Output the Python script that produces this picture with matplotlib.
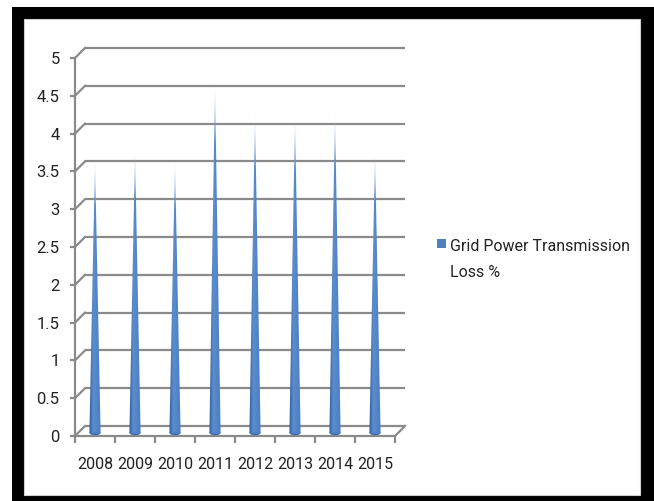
import numpy as np
import matplotlib
matplotlib.use("Agg")
import matplotlib.pyplot as plt
from matplotlib.patches import Rectangle, Polygon, Ellipse
from matplotlib.transforms import ScaledTranslation
from matplotlib.colors import to_rgb

# ---- data ----
years = ["2008", "2009", "2010", "2011", "2012", "2013", "2014", "2015"]
loss_pct = [3.65, 3.78, 3.63, 4.66, 4.26, 4.23, 4.28, 3.75]
y_ticks = [0, 0.5, 1, 1.5, 2, 2.5, 3, 3.5, 4, 4.5, 5]
y_tick_labels = ["0", "0.5", "1", "1.5", "2", "2.5", "3", "3.5", "4", "4.5", "5"]
series_lines = ["Grid Power Transmission", "Loss %"]

plt.rcParams['font.family'] = ['Roboto', 'DejaVu Sans']

W, H = 654, 501
fig = plt.figure(figsize=(W / 100, H / 100), dpi=100)
fig.patch.set_facecolor("white")

# frame
fig.patches.append(Rectangle((12 / W, 0), (W - 12) / W, (H - 7) / H,
                             transform=fig.transFigure, facecolor="black",
                             edgecolor="none", zorder=-10))
fig.patches.append(Rectangle((24 / W, (H - 495) / H), (640 - 24) / W, (495 - 19) / H,
                             transform=fig.transFigure, facecolor="white",
                             edgecolor="#d0d0d0", linewidth=0.8, zorder=-9))

ax = fig.add_axes([75 / W, (H - 436) / H, 320 / W, 378 / H])
ax.set_xlim(-0.5, len(years) - 0.5)
ax.set_ylim(0, 5)
ax.patch.set_visible(False)

grid_c = "#8a8a8a"
text_c = "#222222"
fs = 11.5

for s in ["top", "right"]:
    ax.spines[s].set_visible(False)
for s in ["left", "bottom"]:
    ax.spines[s].set_color(grid_c)
    ax.spines[s].set_linewidth(1.6)

ax.set_yticks(y_ticks)
ax.set_yticklabels(y_tick_labels)
ax.tick_params(axis="y", length=3.6, width=1.6, color=grid_c, pad=7.5,
               labelsize=fs + 0.5, labelcolor=text_c)
ax.set_xticks(range(len(years)))
ax.set_xticklabels(years)
ax.set_xticks(np.arange(-0.5, len(years), 1.0), minor=True)
ax.tick_params(axis="x", which="major", length=0, pad=15, labelsize=fs, labelcolor=text_c)
ax.tick_params(axis="x", which="minor", length=5.2, width=1.6, color=grid_c)

# 3D depth offset (back wall)
back = ax.transData + ScaledTranslation(0.10, 0.10, fig.dpi_scale_trans)
inv = ax.transData.inverted()
x0, x1 = -0.5, len(years) - 0.5

def to_back(x, y):
    return inv.transform(back.transform((x, y)))

for v in y_ticks:
    ax.plot([x0, x1], [v, v], color=grid_c, lw=1.6, transform=back,
            clip_on=False, solid_capstyle="butt", zorder=1)
    bx, by = to_back(x0, v)
    ax.plot([x0, bx], [v, by], color=grid_c, lw=1.6, clip_on=False, zorder=1)
# floor right edge
bx, by = to_back(x1, 0)
ax.plot([x1, bx], [0, by], color=grid_c, lw=1.6, clip_on=False, zorder=1)

# cones
half_w = 0.14
base = 0.04
dark = np.array(to_rgb("#2c5a98"))
mid = np.array(to_rgb("#4a7dc2"))
light = np.array(to_rgb("#5b8dcf"))
nx, ny = 40, 200
u = np.linspace(0, 1, nx)
col = np.zeros((nx, 3))
for k in range(nx):
    t = u[k]
    if t < 0.35:
        col[k] = dark + (light - dark) * (t / 0.35)
    else:
        col[k] = light + (mid - light) * ((t - 0.35) / 0.65)

hfrac = np.linspace(0, 1, ny)  # 0 bottom -> 1 top
for i, val in enumerate(loss_pct):
    img = np.zeros((ny, nx, 4))
    alpha = np.clip(1.0 - (hfrac - 0.84) / 0.16 * 0.75, 0.25, 1.0)
    for r in range(ny):
        w = 0.4 * max(0, hfrac[r] - 0.82) / 0.18
        img[r, :, :3] = col * (1 - w) + w
        img[r, :, 3] = alpha[r]
    poly = Polygon([(i - half_w, base), (i + half_w, base), (i, val)],
                   closed=True, facecolor="none", edgecolor="none")
    ax.add_patch(poly)
    im = ax.imshow(img, extent=(i - half_w, i + half_w, base - 0.05, val),
                   origin="lower", aspect="auto", interpolation="bilinear",
                   zorder=3)
    im.set_clip_path(poly)
    ax.add_patch(Ellipse((i, base), 2 * half_w, 0.06, facecolor="#4174b6",
                         edgecolor="none", zorder=2.9))

ax.set_xlim(-0.5, len(years) - 0.5)
ax.set_ylim(0, 5)

# legend
fig.patches.append(Rectangle((437 / W, (H - 248) / H), 9 / W, 9 / H,
                             transform=fig.transFigure, facecolor="#4f81bd",
                             edgecolor="none"))
fig.text(450 / W, (H - 251) / H, series_lines[0], fontsize=fs, color=text_c,
         ha="left", va="baseline", transform=fig.transFigure)
fig.text(450 / W, (H - 277) / H, series_lines[1], fontsize=fs, color=text_c,
         ha="left", va="baseline", transform=fig.transFigure)

fig.savefig("out.png", dpi=100)
